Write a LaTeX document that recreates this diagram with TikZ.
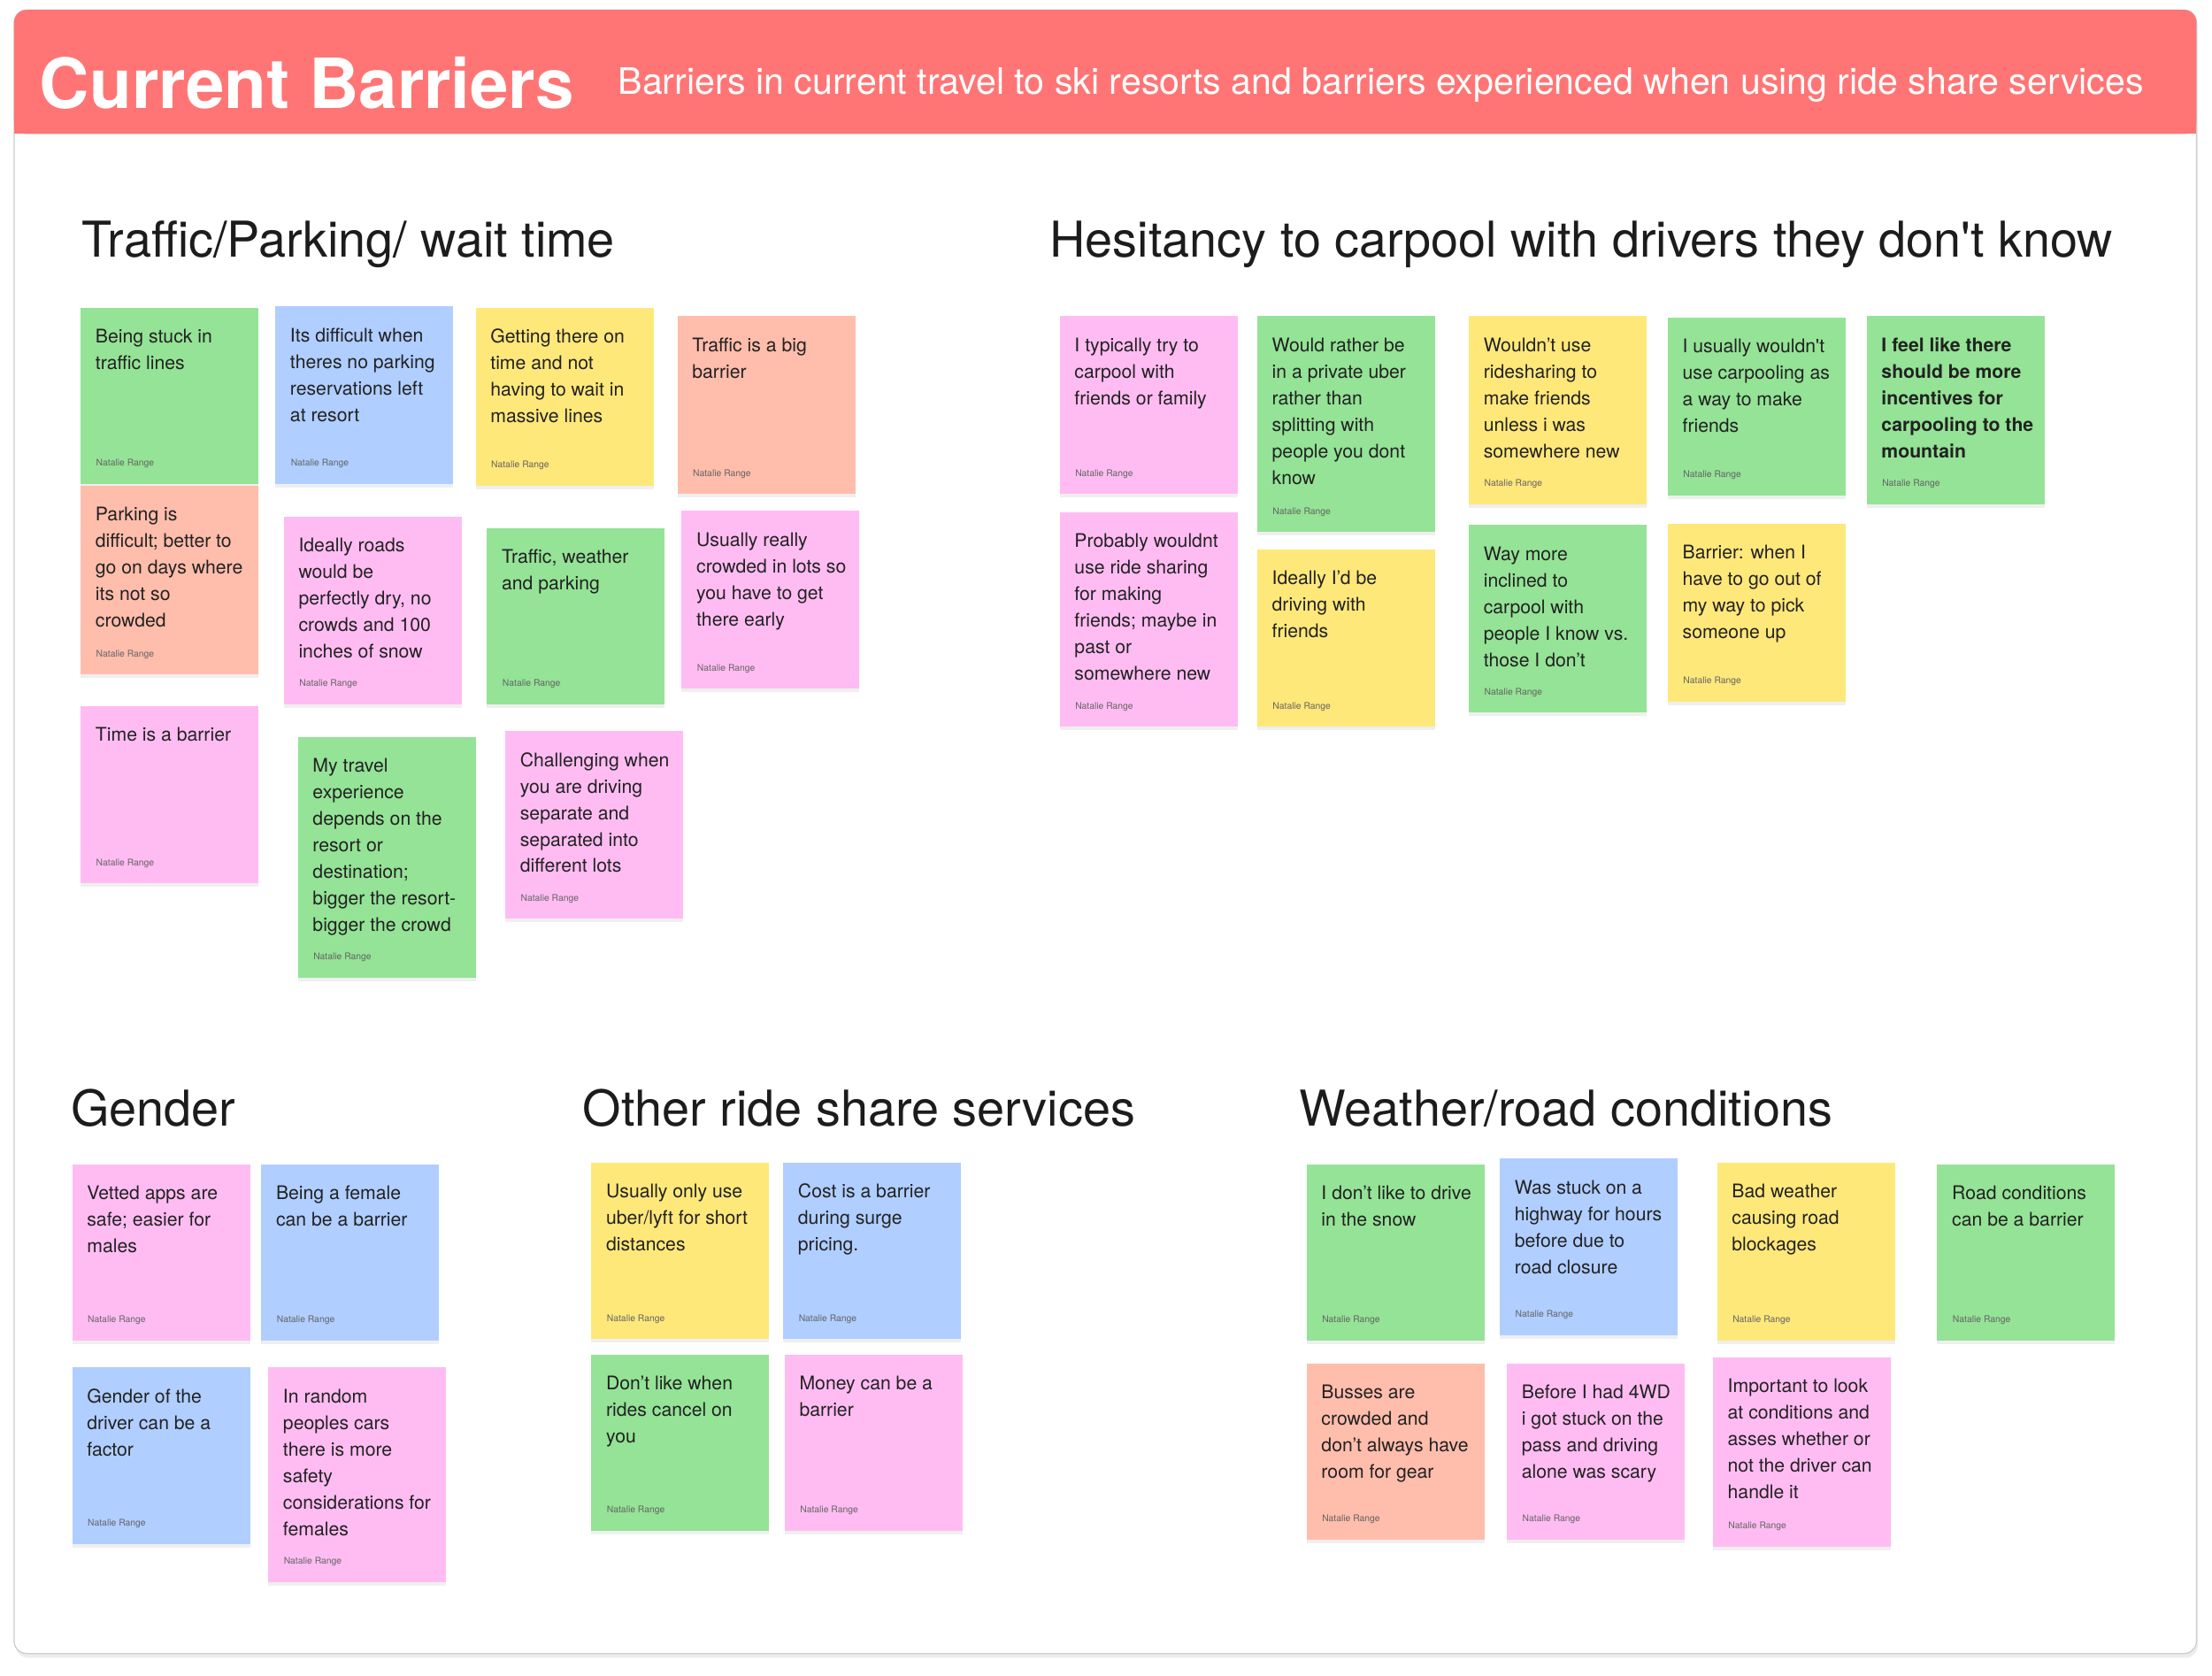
\documentclass[tikz,border=0pt]{standalone}
\usepackage{fontspec}
\setmainfont{TeX Gyre Heros}
\usetikzlibrary{shadows}
\definecolor{hdr}{RGB}{255,117,117}
\definecolor{sgreen}{RGB}{148,227,150}
\definecolor{sblue}{RGB}{176,206,255}
\definecolor{syellow}{RGB}{255,232,122}
\definecolor{ssalmon}{RGB}{255,189,172}
\definecolor{spink}{RGB}{255,188,242}
\definecolor{ink}{RGB}{34,34,34}
\definecolor{headink}{RGB}{28,28,28}
\definecolor{authorgray}{RGB}{100,100,100}
\definecolor{cardborder}{RGB}{205,205,205}
\tikzset{
  notebox/.style={rectangle, anchor=north west, minimum width=126pt, inner sep=0pt, draw=none,
    drop shadow={shadow xshift=0pt, shadow yshift=-2.5pt, opacity=0.12}},
  notetext/.style={anchor=north west, inner sep=0pt, align=left, text=ink,
    font=\fontsize{13.3}{18.8}\selectfont},
  notebold/.style={font=\fontsize{13.3}{18.8}\selectfont\bfseries},
  authorlbl/.style={anchor=base west, inner sep=0pt, text=authorgray, font=\fontsize{6.5}{8}\selectfont},
  sectionhead/.style={anchor=base west, inner sep=0pt, text=headink, font=\fontsize{35}{40}\selectfont},
}
\newcommand{\stickynote}[7][]{%
  \node[notebox, fill=#3, minimum height=#6pt] (#2) at (#4,#5) {};
  \node[notetext,#1] (#2-t) at ({#4+10.5},{#5+15}) {\rule{0pt}{10pt}#7};
  \node[authorlbl] (#2-a) at ({#4+11},{#5+#6-12.5}) {Natalie Range};
}
\begin{document}
\begin{tikzpicture}[x=1pt,y=-1pt]
\useasboundingbox (0,0) rectangle (1568,1187.3);
\fill[white] (0,0) rectangle (1568,1187.3);
% card
\path[fill=white, draw=cardborder, line width=0.8pt, rounded corners=9pt,
  drop shadow={shadow xshift=1pt, shadow yshift=-3pt, opacity=0.15}] (10,7) rectangle (1557,1172);
% header
\fill[hdr, rounded corners=9pt] (10,7) rectangle (1557,95);
\fill[hdr] (10,60) rectangle (1557,95);
\node[anchor=base west, inner sep=0pt, text=white, font=\fontsize{49}{55}\selectfont\bfseries] (title) at (28,77) {Current Barriers};
\node[anchor=base west, inner sep=0pt, text=white, font=\fontsize{25.8}{29}\selectfont] (subtitle) at (438,67) {Barriers in current travel to ski resorts and barriers experienced when using ride share services};
% section headings
\node[sectionhead] (sec-traffic) at (58,182) {Traffic/Parking/ wait time};
\node[sectionhead] (sec-hes) at (744,182) {Hesitancy to carpool with drivers they don\textquotesingle t know};
\node[sectionhead] (sec-gender) at (50,798) {Gender};
\node[sectionhead] (sec-other) at (413,798) {Other ride share services};
\node[sectionhead] (sec-weather) at (921,798) {Weather/road conditions};
% Traffic
\stickynote{t1}{sgreen}{57}{218}{125}{Being stuck in\\traffic lines}
\stickynote{t2}{sblue}{195}{217}{126}{Its difficult when\\theres no parking\\reservations left\\at resort}
\stickynote{t3}{syellow}{337}{218}{126}{Getting there on\\time and not\\having to wait in\\massive lines}
\stickynote{t4}{ssalmon}{480}{224}{126}{Traffic is a big\\barrier}
\stickynote{t5}{ssalmon}{57}{344}{134}{Parking is\\difficult; better to\\go on days where\\its not so\\crowded}
\stickynote{t6}{spink}{201}{366}{133}{Ideally roads\\would be\\perfectly dry, no\\crowds and 100\\inches of snow}
\stickynote{t7}{sgreen}{345}{374}{125}{Traffic, weather\\and parking}
\stickynote{t8}{spink}{483}{362}{126}{Usually really\\crowded in lots so\\you have to get\\there early}
\stickynote{t9}{spink}{57}{500}{126}{Time is a barrier}
\stickynote{t10}{sgreen}{211}{522}{171}{My travel\\experience\\depends on the\\resort or\\destination;\\bigger the resort-\\bigger the crowd}
\stickynote{t11}{spink}{358}{518}{133}{Challenging when\\you are driving\\separate and\\separated into\\different lots}
% Hesitancy
\stickynote{h1}{spink}{751}{224}{126}{I typically try to\\carpool with\\friends or family}
\stickynote{h2}{sgreen}{891}{224}{153}{Would rather be\\in a private uber\\rather than\\splitting with\\people you dont\\know}
\stickynote{h3}{syellow}{1041}{224}{133}{Wouldn’t use\\ridesharing to\\make friends\\unless i was\\somewhere new}
\stickynote{h4}{sgreen}{1182}{225}{126}{I usually wouldn\textquotesingle t\\use carpooling as\\a way to make\\friends}
\stickynote[notebold]{h5}{sgreen}{1323}{224}{133}{I feel like there\\should be more\\incentives for\\carpooling to the\\mountain}
\stickynote{h6}{spink}{751}{363}{152}{Probably wouldnt\\use ride sharing\\for making\\friends; maybe in\\past or\\somewhere new}
\stickynote{h7}{syellow}{891}{389}{126}{Ideally I’d be\\driving with\\friends}
\stickynote{h8}{sgreen}{1041}{372}{133}{Way more\\inclined to\\carpool with\\people I know vs.\\those I don’t}
\stickynote{h9}{syellow}{1182}{371}{126}{Barrier: when I\\have to go out of\\my way to pick\\someone up}
% Gender
\stickynote{g1}{spink}{51}{825}{125}{Vetted apps are\\safe; easier for\\males}
\stickynote{g2}{sblue}{185}{825}{125}{Being a female\\can be a barrier}
\stickynote{g3}{sblue}{51}{969}{125}{Gender of the\\driver can be a\\factor}
\stickynote{g4}{spink}{190}{969}{152}{In random\\peoples cars\\there is more\\safety\\considerations for\\females}
% Other ride share
\stickynote{o1}{syellow}{419}{824}{125}{Usually only use\\uber/lyft for short\\distances}
\stickynote{o2}{sblue}{555}{824}{125}{Cost is a barrier\\during surge\\pricing.}
\stickynote{o3}{sgreen}{419}{960}{125}{Don’t like when\\rides cancel on\\you}
\stickynote{o4}{spink}{556}{960}{125}{Money can be a\\barrier}
% Weather
\stickynote{w1}{sgreen}{926}{825}{125}{I don’t like to drive\\in the snow}
\stickynote{w2}{sblue}{1063}{821}{125}{Was stuck on a\\highway for hours\\before due to\\road closure}
\stickynote{w3}{syellow}{1217}{824}{126}{Bad weather\\causing road\\blockages}
\stickynote{w4}{sgreen}{1373}{825}{125}{Road conditions\\can be a barrier}
\stickynote{w5}{ssalmon}{926}{966}{125}{Busses are\\crowded and\\don’t always have\\room for gear}
\stickynote{w6}{spink}{1068}{966}{125}{Before I had 4WD\\i got stuck on the\\pass and driving\\alone was scary}
\stickynote{w7}{spink}{1214}{962}{134}{Important to look\\at conditions and\\asses whether or\\not the driver can\\handle it}
\end{tikzpicture}
\end{document}
